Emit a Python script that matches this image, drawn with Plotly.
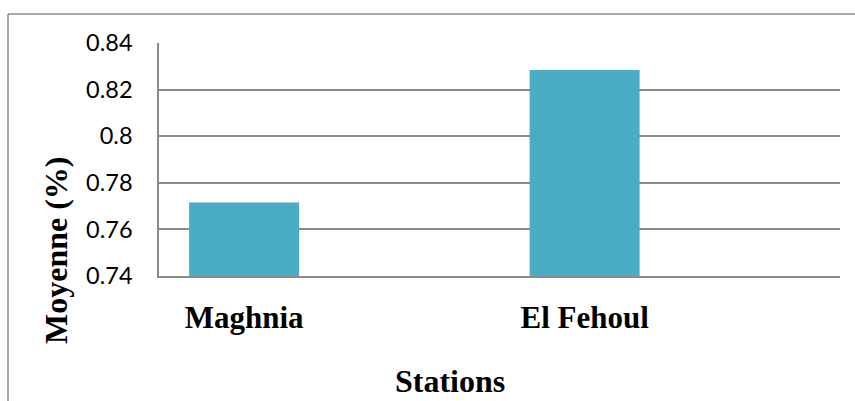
import plotly.graph_objects as go

# Mean values per station
stations = ["Maghnia", "El Fehoul"]
moyennes = [0.7715, 0.8284]
y_ticks = [0.74, 0.76, 0.78, 0.80, 0.82, 0.84]
y_tick_labels = ["0.74", "0.76", "0.78", "0.8", "0.82", "0.84"]

W, H = 855, 401
L, R, T, B = 159, 15, 43, 125
pw, ph = W - L - R, H - T - B

def px_x(px):
    return (px - L) / pw

def px_y(py):
    return (H - B - py) / ph

grid = "#8a8a8a"
serif = "Liberation Serif"

fig = go.Figure(
    go.Bar(
        x=list(range(len(stations))),
        y=moyennes,
        base=0,
        width=0.323,
        marker=dict(color="#4BACC6", line=dict(width=0)),
    )
)

fig.update_layout(
    width=W,
    height=H,
    margin=dict(l=L, r=R, t=T, b=B, pad=0),
    paper_bgcolor="white",
    plot_bgcolor="white",
    showlegend=False,
    xaxis=dict(
        range=[-0.25, 1.75],
        tickvals=list(range(len(stations))),
        ticktext=[f"<b>{s}</b>" for s in stations],
        tickfont=dict(family=serif, size=31, color="black"),
        ticks="",
        ticklabelstandoff=13,
        showgrid=False,
        zeroline=False,
        showline=True,
        linecolor=grid,
        linewidth=1.5,
    ),
    yaxis=dict(
        range=[0.74, 0.84],
        tickvals=y_ticks,
        ticktext=y_tick_labels,
        tickfont=dict(family="Lato", size=23.5, color="black"),
        ticks="",
        ticklabelstandoff=20,
        showgrid=True,
        gridcolor=grid,
        gridwidth=1.5,
        zeroline=False,
        showline=True,
        linecolor=grid,
        linewidth=1.5,
    ),
    shapes=[
        # outer chart frame (top and left edges)
        dict(type="line", xref="paper", yref="paper",
             x0=px_x(8), x1=px_x(W + 5), y0=px_y(14), y1=px_y(14),
             line=dict(color="#8c8c8c", width=1.5)),
        dict(type="line", xref="paper", yref="paper",
             x0=px_x(8), x1=px_x(8), y0=px_y(14), y1=px_y(H + 5),
             line=dict(color="#8c8c8c", width=1.5)),
    ],
    annotations=[
        dict(text="<b>Moyenne (%)</b>", xref="paper", yref="paper",
             x=px_x(56), y=px_y(250), textangle=-90, showarrow=False,
             xanchor="center", yanchor="middle",
             font=dict(family=serif, size=32, color="black")),
        dict(text="<b>Stations</b>", xref="paper", yref="paper",
             x=px_x(450), y=px_y(381), showarrow=False,
             xanchor="center", yanchor="middle",
             font=dict(family=serif, size=32, color="black")),
    ],
)

fig.write_html("out.html")
